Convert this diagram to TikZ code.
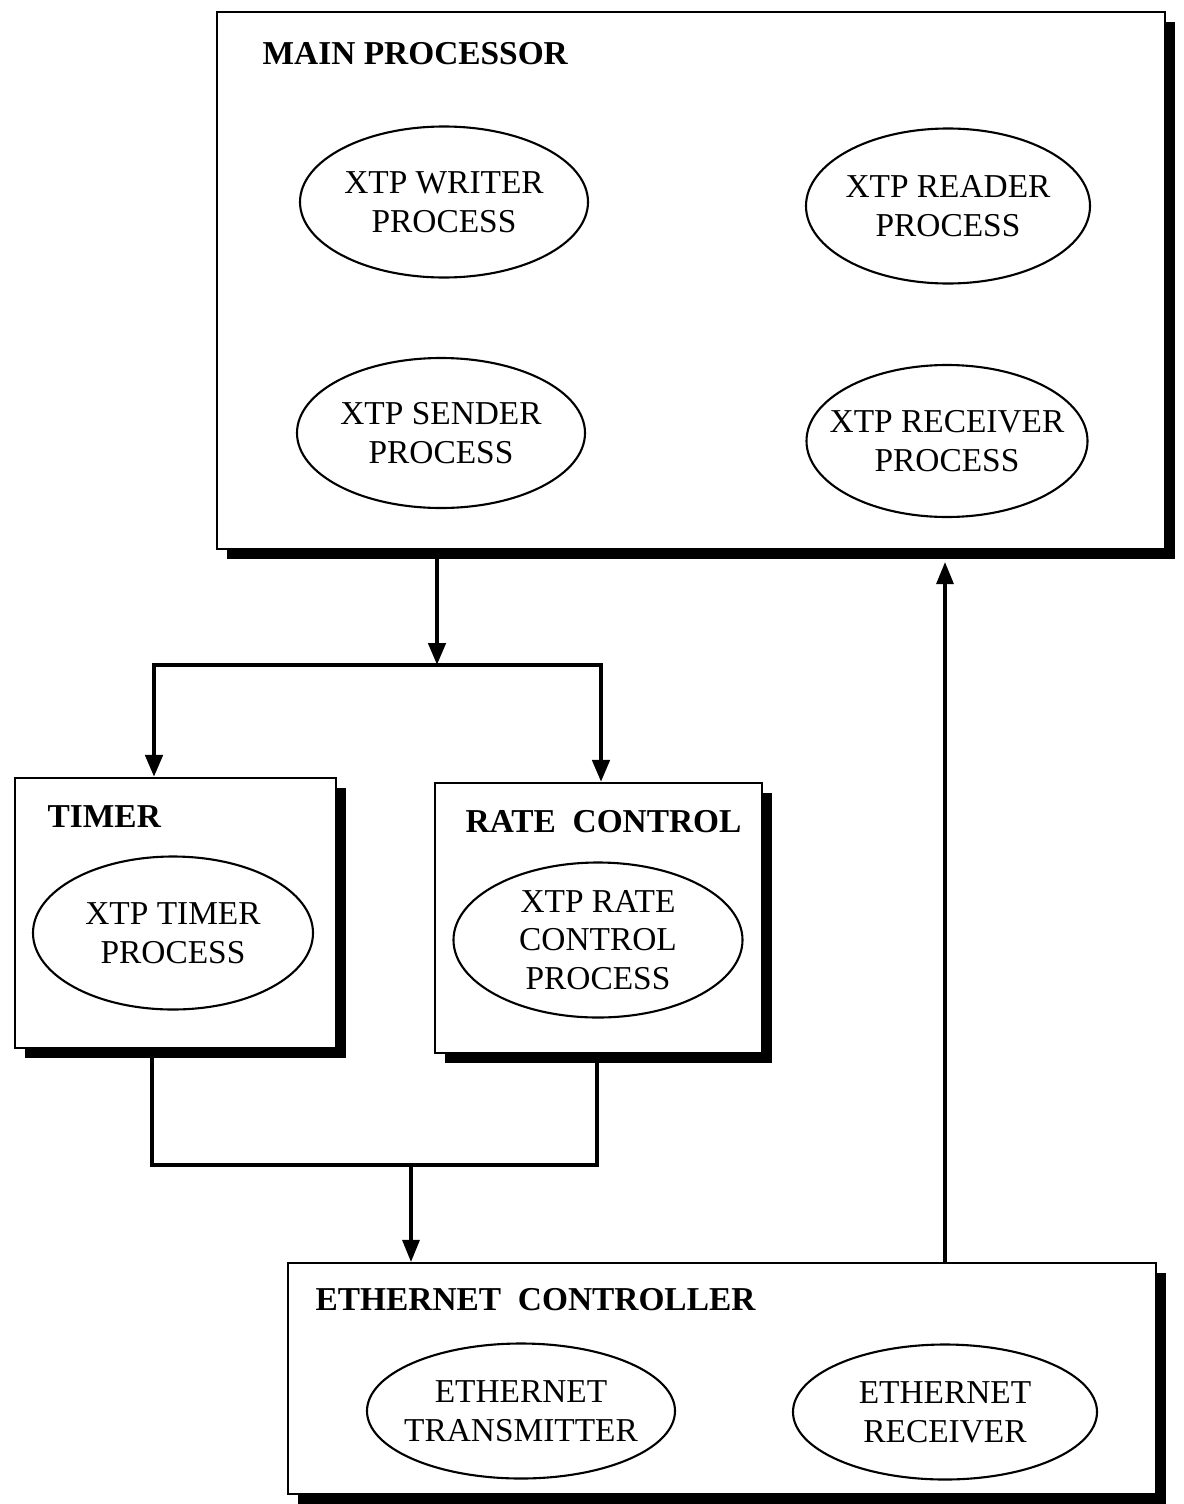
\documentclass[tikz,border=0pt]{standalone}
\usepackage{fontspec}
\setmainfont{Liberation Serif}
\usepackage{tikz}
\usetikzlibrary{arrows.meta,positioning,calc,shapes.geometric,shadows}

\tikzset{
    unit/.style={draw,line width=0.6pt,fill=white,anchor=center,
        drop shadow={shadow xshift=0.1cm,shadow yshift=-0.1cm,fill=black,opacity=1}},
    unittitle/.style={anchor=base west,inner sep=0pt,font=\fontsize{9.5}{11}\selectfont\bfseries},
    proc/.style={ellipse,draw,line width=0.6pt,inner xsep=-0.6cm,inner ysep=-0.3cm,align=center,
        font=\fontsize{9.5}{11}\selectfont},
    conn/.style={line width=1.3pt,line join=miter,-{Triangle[width=0.17cm,length=0.22cm]}},
    thinconn/.style={line width=0.9pt,-{Triangle[width=0.17cm,length=0.22cm]}}
}

\begin{document}
\begin{tikzpicture}
        \useasboundingbox (0,0) rectangle (11.83,-15.04);

        % Units (boxes)
        \node[unit,minimum width=9.48cm,minimum height=5.37cm] (main) at (6.91,-2.805) {};
        \node[unit,minimum width=3.21cm,minimum height=2.70cm] (timer) at (1.755,-9.13) {};
        \node[unit,minimum width=3.27cm,minimum height=2.70cm] (rate) at (5.985,-9.18) {};
        \node[unit,minimum width=8.68cm,minimum height=2.31cm] (ether) at (7.22,-13.785) {};

        % Unit titles
        \node[unittitle] (mainT) at (2.62,-0.65) {MAIN PROCESSOR};
        \node[unittitle] (timerT) at (0.47,-8.27) {TIMER};
        \node[unittitle] (rateT) at (4.65,-8.32) {RATE\ \ CONTROL};
        \node[unittitle] (etherT) at (3.15,-13.10) {ETHERNET\ \ CONTROLLER};

        % Processes
        \node[proc,minimum width=2.88cm,minimum height=1.51cm] (writer) at (4.44,-2.02) {XTP WRITER\\PROCESS};
        \node[proc,minimum width=2.84cm,minimum height=1.55cm] (reader) at (9.48,-2.06) {XTP READER\\PROCESS};
        \node[proc,minimum width=2.88cm,minimum height=1.50cm] (sender) at (4.41,-4.33) {XTP SENDER\\PROCESS};
        \node[proc,minimum width=2.81cm,minimum height=1.52cm] (receiver) at (9.47,-4.41) {XTP RECEIVER\\PROCESS};
        \node[proc,minimum width=2.80cm,minimum height=1.53cm] (timerP) at (1.73,-9.33) {XTP TIMER\\PROCESS};
        \node[proc,minimum width=2.89cm,minimum height=1.55cm] (rateP) at (5.98,-9.40) {XTP RATE\\CONTROL\\PROCESS};
        \node[proc,minimum width=3.08cm,minimum height=1.35cm] (etherTx) at (5.21,-14.11) {ETHERNET\\TRANSMITTER};
        \node[proc,minimum width=3.04cm,minimum height=1.35cm] (etherRx) at (9.45,-14.12) {ETHERNET\\RECEIVER};

        % Junction points
        \coordinate (split) at (4.37,-6.65);
        \coordinate (tleft) at (1.54,-6.65);
        \coordinate (tright) at (6.01,-6.65);
        \coordinate (jleft) at (1.52,-11.65);
        \coordinate (jright) at (5.97,-11.65);
        \coordinate (jmid) at (4.11,-11.65);
        \coordinate (up) at (9.45,-12.6);

        % Main processor to timer and rate control
        \draw[conn] (main.south -| split) -- (split);
        \draw[conn,{Triangle[width=0.17cm,length=0.22cm]}-{Triangle[width=0.17cm,length=0.22cm]}] (tleft |- timer.north) -- (tleft) -- (tright) -- (tright |- rate.north);

        % Timer and rate control to ethernet controller
        \draw[line width=1.3pt,line join=miter] (timer.south -| jleft) -- (jleft) -- (jright) -- (rate.south -| jright);
        \draw[thinconn] (jmid) -- (jmid |- ether.north);

        % Ethernet controller back to main processor
        \draw[thinconn,shorten >=0.12cm] (ether.north -| up) -- (main.south -| up);
    \end{tikzpicture}
\end{document}
